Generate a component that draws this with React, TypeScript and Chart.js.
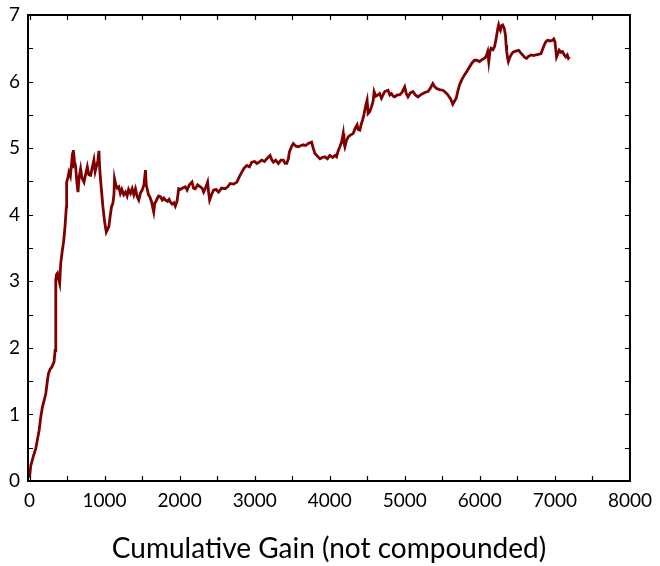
import React, { useEffect, useRef } from "react";
import { Chart, registerables } from "chart.js";

Chart.register(...registerables);

// Cumulative gain (x) vs. value (y)
const gainX: number[] = [
  0, 17, 48, 84, 128, 150, 172, 217, 239, 252, 275, 296, 327, 341, 350, 360, 372, 385, 402, 416,
  438, 455, 473, 491, 495, 510, 526, 545, 562, 575, 584, 600, 615, 630, 646, 660, 681, 700, 726, 750,
  770, 790, 814, 835, 858, 875, 890, 910, 925, 935, 947, 960, 978, 1000, 1023, 1040, 1057, 1075, 1093, 1111,
  1125, 1133, 1150, 1170, 1190, 1210, 1230, 1255, 1279, 1300, 1320, 1346, 1368, 1390, 1412, 1435, 1456, 1480, 1501, 1525,
  1545, 1555, 1567, 1585, 1602, 1625, 1640, 1655, 1670, 1685, 1700, 1720, 1744, 1770, 1790, 1811, 1840, 1860, 1877, 1900,
  1925, 1943, 1965, 1988, 2010, 2040, 2076, 2100, 2130, 2165, 2185, 2209, 2240, 2276, 2300, 2320, 2345, 2373, 2385, 2400,
  2425, 2452, 2485, 2519, 2560, 2608, 2640, 2674, 2720, 2763, 2800, 2829, 2860, 2896, 2930, 2962, 3000, 3029, 3060, 3095,
  3130, 3162, 3205, 3230, 3249, 3280, 3316, 3350, 3382, 3405, 3427, 3449, 3462, 3490, 3515, 3550, 3581, 3620, 3648, 3680,
  3714, 3759, 3780, 3803, 3835, 3870, 3900, 3936, 3970, 4002, 4040, 4070, 4091, 4110, 4135, 4160, 4180, 4190, 4202, 4225,
  4246, 4280, 4312, 4340, 4365, 4380, 4401, 4420, 4437, 4455, 4467, 4482, 4498, 4511, 4534, 4556, 4577, 4591, 4615, 4644,
  4665, 4689, 4710, 4733, 4777, 4800, 4822, 4845, 4866, 4900, 4932, 4965, 4999, 5020, 5043, 5075, 5109, 5140, 5176, 5210,
  5242, 5275, 5309, 5340, 5374, 5400, 5420, 5460, 5507, 5540, 5574, 5610, 5640, 5660, 5685, 5705, 5729, 5760, 5796, 5830,
  5862, 5895, 5929, 5960, 5995, 6030, 6062, 6085, 6105, 6119, 6135, 6150, 6175, 6194, 6210, 6225, 6240, 6251, 6262, 6274,
  6290, 6305, 6325, 6341, 6350, 6358, 6370, 6380, 6398, 6416, 6440, 6460, 6490, 6517, 6545, 6570, 6600, 6623, 6650, 6682,
  6715, 6748, 6780, 6815, 6835, 6858, 6880, 6902, 6935, 6969, 6985, 7000, 7010, 7022, 7040, 7057, 7080, 7101, 7125, 7146,
  7165, 7180, 7195,
];

const valueY: number[] = [
  0.05, 0.23, 0.36, 0.49, 0.76, 0.96, 1.11, 1.31, 1.51, 1.61, 1.68, 1.71, 1.79, 1.96, 3.02, 3.1, 3.12, 3.05, 2.97, 3.27,
  3.47, 3.6, 3.82, 4.12, 4.49, 4.55, 4.64, 4.58, 4.79, 4.7, 4.97, 4.8, 4.72, 4.5, 4.34, 4.55, 4.69, 4.55, 4.49, 4.62,
  4.72, 4.6, 4.59, 4.7, 4.82, 4.65, 4.72, 4.8, 4.96, 4.7, 4.52, 4.35, 4.12, 3.9, 3.74, 3.78, 3.82, 3.98, 4.12, 4.17,
  4.3, 4.54, 4.45, 4.4, 4.42, 4.32, 4.38, 4.3, 4.34, 4.28, 4.38, 4.32, 4.39, 4.3, 4.39, 4.27, 4.22, 4.33, 4.37, 4.45,
  4.67, 4.45, 4.39, 4.3, 4.27, 4.2, 4.12, 4.04, 4.18, 4.2, 4.24, 4.28, 4.27, 4.22, 4.25, 4.22, 4.2, 4.23, 4.19, 4.16,
  4.18, 4.13, 4.2, 4.39, 4.38, 4.4, 4.42, 4.37, 4.45, 4.49, 4.4, 4.39, 4.45, 4.42, 4.4, 4.34, 4.4, 4.49, 4.35, 4.22,
  4.3, 4.37, 4.38, 4.34, 4.4, 4.39, 4.42, 4.47, 4.46, 4.49, 4.58, 4.64, 4.7, 4.74, 4.72, 4.79, 4.8, 4.77, 4.79, 4.82,
  4.8, 4.84, 4.89, 4.82, 4.79, 4.82, 4.77, 4.82, 4.82, 4.77, 4.77, 4.84, 4.94, 5.02, 5.07, 5.03, 5.02, 5.04, 5.05, 5.04,
  5.07, 5.09, 5.0, 4.92, 4.88, 4.84, 4.86, 4.87, 4.84, 4.89, 4.86, 4.89, 4.87, 4.95, 5.02, 5.1, 5.22, 5.08, 5.02, 5.12,
  5.17, 5.2, 5.22, 5.3, 5.35, 5.28, 5.27, 5.36, 5.42, 5.5, 5.57, 5.65, 5.72, 5.52, 5.55, 5.62, 5.7, 5.85, 5.78, 5.8,
  5.82, 5.75, 5.8, 5.85, 5.87, 5.8, 5.82, 5.78, 5.77, 5.8, 5.8, 5.84, 5.92, 5.82, 5.77, 5.83, 5.85, 5.8, 5.77, 5.8,
  5.82, 5.84, 5.85, 5.9, 5.97, 5.92, 5.9, 5.88, 5.87, 5.84, 5.8, 5.74, 5.66, 5.7, 5.75, 5.85, 5.95, 6.03, 6.1, 6.16,
  6.22, 6.28, 6.32, 6.32, 6.3, 6.33, 6.35, 6.38, 6.45, 6.3, 6.45, 6.5, 6.48, 6.52, 6.6, 6.7, 6.8, 6.85, 6.8, 6.77,
  6.84, 6.85, 6.8, 6.7, 6.55, 6.45, 6.35, 6.3, 6.36, 6.4, 6.44, 6.45, 6.46, 6.47, 6.43, 6.4, 6.36, 6.35, 6.38, 6.4,
  6.39, 6.4, 6.41, 6.42, 6.48, 6.55, 6.6, 6.62, 6.61, 6.62, 6.64, 6.6, 6.5, 6.37, 6.42, 6.47, 6.44, 6.45, 6.4, 6.37,
  6.4, 6.35, 6.37,
];

const xTickStep = 1000;
const xMinorStep = 500;
const yTickStep = 1;
const yMinorStep = 0.5;

const FONT = "Lato, 'DejaVu Sans', sans-serif";

// Draws the black frame and inward-pointing ticks on all four sides.
const framePlugin = {
  id: "frameTicks",
  afterDraw(chart: any) {
    const { ctx, chartArea: a, scales } = chart;
    const xs = scales.x;
    const ys = scales.y;
    const len = 5;
    ctx.save();
    ctx.strokeStyle = "#000";
    ctx.lineWidth = 1.2;
    ctx.beginPath();
    for (let v = 0; v <= xs.max + 1e-9; v += xMinorStep) {
      const px = Math.round(xs.getPixelForValue(v)) + 0.5;
      if (px < a.left + 1 || px > a.right - 1) continue;
      ctx.moveTo(px, a.bottom);
      ctx.lineTo(px, a.bottom - len);
      ctx.moveTo(px, a.top);
      ctx.lineTo(px, a.top + len);
    }
    for (let v = ys.min; v <= ys.max + 1e-9; v += yMinorStep) {
      const py = Math.round(ys.getPixelForValue(v)) + 0.5;
      if (py < a.top + 1 || py > a.bottom - 1) continue;
      ctx.moveTo(a.left, py);
      ctx.lineTo(a.left + len, py);
      ctx.moveTo(a.right, py);
      ctx.lineTo(a.right - len, py);
    }
    ctx.stroke();
    ctx.lineWidth = 2;
    ctx.strokeRect(a.left, a.top, a.right - a.left, a.bottom - a.top);
    ctx.restore();
  },
};

export default function App() {
  const ref = useRef<HTMLCanvasElement | null>(null);

  useEffect(() => {
    document.body.style.margin = "0";
    const canvas = ref.current;
    if (!canvas) return;
    const points = gainX.map((x, i) => ({ x, y: valueY[i] }));
    const chart = new Chart(canvas, {
      type: "line",
      data: {
        datasets: [
          {
            data: points,
            borderColor: "#7f0000",
            borderWidth: 2.8,
            pointRadius: 0,
            tension: 0,
            fill: false,
          },
        ],
      },
      options: {
        animation: false,
        responsive: false,
        maintainAspectRatio: false,
        layout: { padding: { top: 15, right: 25, left: 0, bottom: 0 } },
        plugins: { legend: { display: false }, tooltip: { enabled: false } },
        scales: {
          x: {
            type: "linear",
            min: -20,
            max: 8000,
            grid: { display: false, drawTicks: false },
            border: { display: false },
            afterBuildTicks: (s: any) => {
              const t = [];
              for (let v = 0; v <= 8000; v += xTickStep) t.push({ value: v });
              s.ticks = t;
            },
            ticks: {
              padding: 8,
              color: "#000",
              maxRotation: 0,
              font: { family: FONT, size: 19 },
              callback: (v: any) => String(v),
            },
            title: {
              display: true,
              text: "Cumulative Gain (not compounded)",
              color: "#000",
              font: { family: FONT, size: 28 },
              padding: { top: 12, bottom: 0 },
            },
            afterFit: (s: any) => {
              s.height = 85;
            },
          },
          y: {
            type: "linear",
            min: 0,
            max: 7,
            grid: { display: false, drawTicks: false },
            border: { display: false },
            ticks: {
              stepSize: yTickStep,
              padding: 8,
              color: "#000",
              font: { family: FONT, size: 19 },
              callback: (v: any) => String(v),
            },
            afterFit: (s: any) => {
              s.width = 28;
              s.paddingTop = 0;
              s.paddingBottom = 0;
            },
          },
        },
      },
      plugins: [framePlugin],
    });
    return () => chart.destroy();
  }, []);

  return (
    <div style={{ width: 660, height: 566, background: "#fff" }}>
      <canvas ref={ref} width={660} height={566} style={{ display: "block" }} />
    </div>
  );
}
